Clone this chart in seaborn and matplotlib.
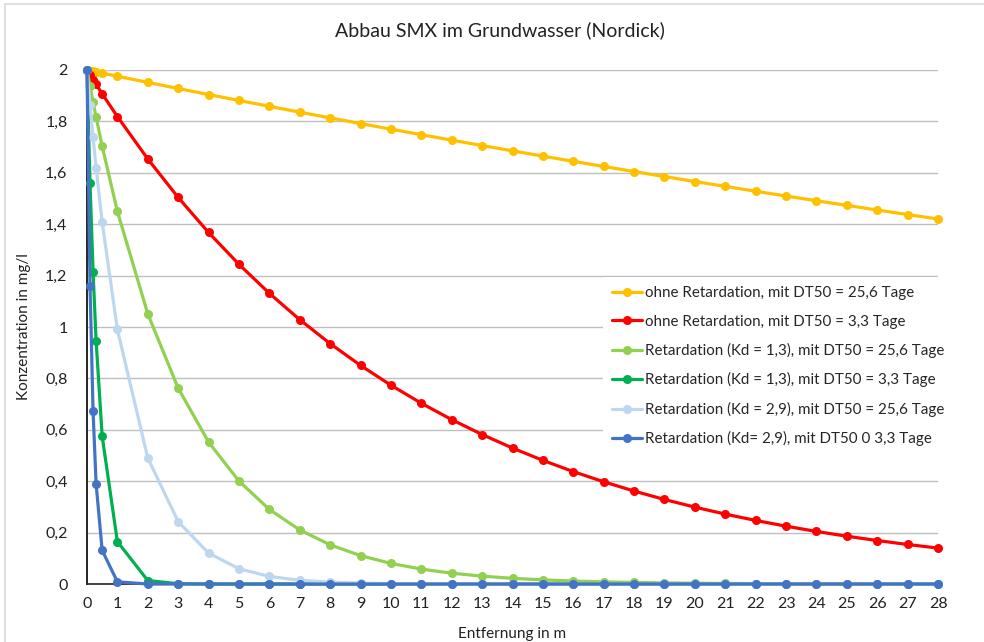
import matplotlib
matplotlib.use("Agg")
import matplotlib.pyplot as plt
from matplotlib.patches import Rectangle
from matplotlib.ticker import FuncFormatter, MultipleLocator
import numpy as np
import pandas as pd
import seaborn as sns

# Distance from the source (m)
entfernung = [0, 0.1, 0.2, 0.3, 0.5] + list(range(1, 29))

# Concentration (mg/l) for each scenario
ohne_ret_256 = [2.0, 1.9976, 1.9951, 1.9927, 1.9878, 1.9757, 1.9517, 1.9280, 1.9045,
                1.8814, 1.8585, 1.8359, 1.8136, 1.7915, 1.7698, 1.7483, 1.7270, 1.7060,
                1.6853, 1.6648, 1.6445, 1.6246, 1.6048, 1.5853, 1.5660, 1.5470, 1.5282,
                1.5096, 1.4913, 1.4731, 1.4552, 1.4375, 1.4201]
ohne_ret_33 = [2.0, 1.9811, 1.9624, 1.9438, 1.9072, 1.8187, 1.6539, 1.5040, 1.3677,
               1.2438, 1.1311, 1.0285, 0.9353, 0.8506, 0.7735, 0.7034, 0.6396, 0.5817,
               0.5290, 0.4810, 0.4374, 0.3978, 0.3617, 0.3289, 0.2991, 0.2720, 0.2474,
               0.2250, 0.2046, 0.1860, 0.1692, 0.1538, 0.1399]
kd13_256 = [2.0, 1.9367, 1.8754, 1.8161, 1.7029, 1.4499, 1.0511, 0.7620, 0.5524,
            0.4005, 0.2903, 0.2105, 0.1526, 0.1106, 0.0802, 0.0581, 0.0422, 0.0306,
            0.0222, 0.0161, 0.0116, 0.0084, 0.0061, 0.0044, 0.0032, 0.0023, 0.0017,
            0.0012, 0.0009, 0.0006, 0.0005, 0.0003, 0.0002]
kd13_33 = [2.0, 1.5584, 1.2143, 0.9461, 0.5744, 0.1650, 0.0136, 0.0011, 0.0001,
           0.0, 0.0, 0.0, 0.0, 0.0, 0.0, 0.0, 0.0, 0.0, 0.0, 0.0, 0.0, 0.0, 0.0,
           0.0, 0.0, 0.0, 0.0, 0.0, 0.0, 0.0, 0.0, 0.0, 0.0]
kd29_256 = [2.0, 1.8642, 1.7377, 1.6197, 1.4073, 0.9903, 0.4903, 0.2428, 0.1202,
            0.0595, 0.0295, 0.0146, 0.0072, 0.0036, 0.0018, 0.0009, 0.0004, 0.0002,
            0.0001, 0.0, 0.0, 0.0, 0.0, 0.0, 0.0, 0.0, 0.0, 0.0, 0.0, 0.0, 0.0,
            0.0, 0.0]
kd29_33 = [2.0, 1.1591, 0.6717, 0.3893, 0.1308, 0.0085, 0.0, 0.0, 0.0, 0.0, 0.0,
           0.0, 0.0, 0.0, 0.0, 0.0, 0.0, 0.0, 0.0, 0.0, 0.0, 0.0, 0.0, 0.0, 0.0,
           0.0, 0.0, 0.0, 0.0, 0.0, 0.0, 0.0, 0.0]

serien = [
    "ohne Retardation, mit DT50 = 25,6 Tage",
    "ohne Retardation, mit DT50 = 3,3 Tage",
    "Retardation (Kd = 1,3), mit DT50 = 25,6 Tage",
    "Retardation (Kd = 1,3), mit DT50 = 3,3 Tage",
    "Retardation (Kd = 2,9), mit DT50 = 25,6 Tage",
    "Retardation (Kd= 2,9), mit DT50 0 3,3 Tage",
]
werte = [ohne_ret_256, ohne_ret_33, kd13_256, kd13_33, kd29_256, kd29_33]
farben = ["#FFC000", "#FF0000", "#92D050", "#00B050", "#BDD7EE", "#4472C4"]

df = pd.concat(
    [pd.DataFrame({"Entfernung": entfernung, "Konzentration": w, "Serie": s})
     for s, w in zip(serien, werte)],
    ignore_index=True,
)

sns.set_theme(style="white")
plt.rcParams["font.family"] = ["Lato", "DejaVu Sans"]

fig = plt.figure(figsize=(9.84, 6.42), dpi=100)
ax = fig.add_axes([0.0884, 0.0903, 0.8649, 0.8007])

sns.lineplot(
    data=df, x="Entfernung", y="Konzentration", hue="Serie",
    hue_order=serien, palette=farben, marker="o", markersize=6.5,
    markeredgewidth=0, linewidth=2.3, sort=False, ax=ax, clip_on=False,
    zorder=3,
)

ax.set_xlim(0, 28)
ax.set_ylim(0, 2)
ax.xaxis.set_major_locator(MultipleLocator(1))
ax.yaxis.set_major_locator(MultipleLocator(0.2))
ax.yaxis.set_major_formatter(
    FuncFormatter(lambda v, _: ("%g" % round(v, 1)).replace(".", ","))
)
ax.tick_params(axis="both", length=0, labelsize=11.5, colors="#222222")
ax.tick_params(axis="x", pad=9)
ax.tick_params(axis="y", pad=14)

ax.yaxis.grid(True, color="#BFBFBF", linewidth=1)
ax.xaxis.grid(False)
ax.set_axisbelow(True)
for side in ["top", "right"]:
    ax.spines[side].set_visible(False)
ax.spines["left"].set_color("#000000")
ax.spines["left"].set_linewidth(1.2)
ax.spines["bottom"].set_color("#222222")
ax.spines["bottom"].set_linewidth(1.2)

fig.text(500 / 984, 1 - 30 / 642, "Abbau SMX im Grundwasser (Nordick)",
         fontsize=14, color="#222222", ha="center", va="center")
ax.set_xlabel("Entfernung in m", fontsize=11, color="#222222", labelpad=12)
ax.set_ylabel("Konzentration in mg/l", fontsize=11, color="#222222", labelpad=10)

leg = ax.legend(
    loc="upper left", bbox_to_anchor=(0.606, 0.597), frameon=True,
    fontsize=10.9, handlelength=2.0, handletextpad=0.2, labelspacing=0.95,
    borderpad=0.6, borderaxespad=0,
)
leg.get_frame().set_facecolor("white")
leg.get_frame().set_edgecolor("none")
leg.get_frame().set_alpha(1)
leg.set_zorder(2.5)

# thin chart-area border
fig.patches.append(Rectangle((5 / 984, -0.1), 1.2, 1.1 - 4 / 642, transform=fig.transFigure,
                             fill=False, edgecolor="#D9D9D9", linewidth=1.2))

fig.savefig("out.png", dpi=100, facecolor="white")
